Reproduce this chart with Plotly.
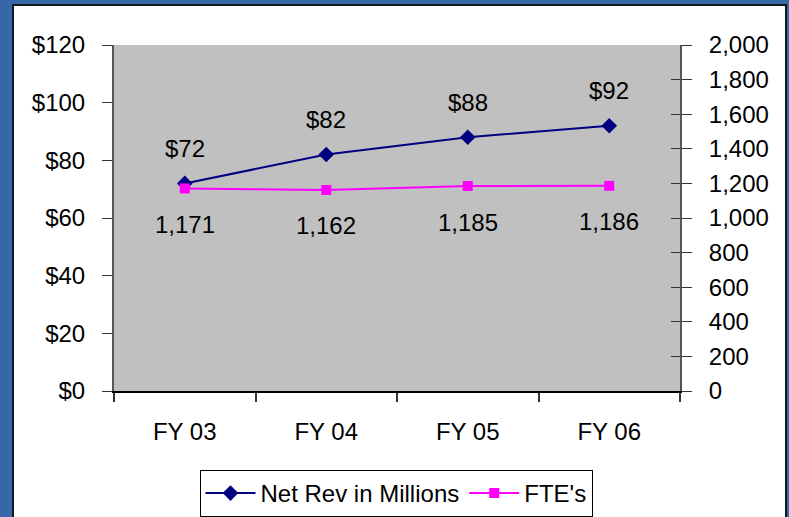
import plotly.graph_objects as go

categories = ["FY 03", "FY 04", "FY 05", "FY 06"]
net_rev = [72, 82, 88, 92]
fte = [1171, 1162, 1185, 1186]
rev_labels = ["$72", "$82", "$88", "$92"]
fte_labels = ["1,171", "1,162", "1,185", "1,186"]

W, H = 789, 517
L, R, T, B = 114, 680, 45, 391
pw, ph = R - L, B - T

FONT = "Arial, Liberation Sans, sans-serif"
FS = 24

fig = go.Figure()
fig.add_trace(go.Scatter(
    x=categories, y=net_rev, name="Net Rev in Millions", mode="lines+markers",
    line=dict(color="#000080", width=2),
    marker=dict(symbol="diamond", size=12, color="#000080"),
    yaxis="y", cliponaxis=False))
fig.add_trace(go.Scatter(
    x=categories, y=fte, name="FTE's", mode="lines+markers",
    line=dict(color="#FF00FF", width=2),
    marker=dict(symbol="square", size=10, color="#FF00FF"),
    yaxis="y2", cliponaxis=False))

annotations = []
for c, v, t in zip(categories, net_rev, rev_labels):
    annotations.append(dict(x=c, y=v, xref="x", yref="y", text=t, showarrow=False,
                            yshift=35, font=dict(family=FONT, size=FS, color="black")))
for c, v, t in zip(categories, fte, fte_labels):
    annotations.append(dict(x=c, y=v, xref="x", yref="y2", text=t, showarrow=False,
                            yshift=-36, font=dict(family=FONT, size=FS, color="black")))

def px_x(x):
    return (x - L) / pw

def px_y(y):
    return (B - y) / ph

shapes = [
    dict(type="rect", xref="paper", yref="paper",
         x0=px_x(13), x1=px_x(786), y0=px_y(540), y1=px_y(5),
         fillcolor="white", line=dict(color="#101820", width=2), layer="below"),
    dict(type="rect", xref="paper", yref="paper", x0=0, x1=1, y0=0, y1=1,
         fillcolor="#C0C0C0", line=dict(width=0), layer="below"),
]

fig.update_layout(
    width=W, height=H,
    margin=dict(l=L, r=W - R, t=T, b=H - B, pad=0),
    paper_bgcolor="#3767A6",
    plot_bgcolor="#C0C0C0",
    font=dict(family=FONT, size=FS, color="black"),
    showlegend=True,
    legend=dict(orientation="h", xref="container", yref="container",
                x=396 / W, xanchor="center", y=1 - 470 / H, yanchor="top",
                bgcolor="white", bordercolor="black", borderwidth=1,
                font=dict(family=FONT, size=FS, color="black"), itemwidth=50,
                tracegroupgap=0),
    xaxis=dict(type="category", range=[-0.5, 3.5], tickson="boundaries",
               ticks="outside", ticklen=9, tickcolor="#333333", tickwidth=2,
               showline=True, linecolor="black", linewidth=2,
               showgrid=False, zeroline=False, ticklabelstandoff=18,
               tickfont=dict(family=FONT, size=FS)),
    yaxis=dict(range=[0, 120], dtick=20, tickprefix="$", ticks="outside", ticklen=10,
               tickcolor="#333333", tickwidth=1, showline=True, linecolor="#555555", linewidth=2,
               showgrid=False, zeroline=False, ticklabelstandoff=12,
               tickfont=dict(family=FONT, size=FS)),
    yaxis2=dict(range=[0, 2000], dtick=200, tickformat=",d", overlaying="y", side="right",
                anchor="x", ticks="outside", ticklen=10, tickcolor="#333333", tickwidth=1,
                showline=True, linecolor="#555555", linewidth=2, showgrid=False, zeroline=False,
                ticklabelstandoff=12, tickfont=dict(family=FONT, size=FS)),
    yaxis3=dict(range=[0, 2000], dtick=200, overlaying="y", side="right", anchor="x",
                ticks="inside", ticklen=9, tickcolor="#333333", tickwidth=1,
                showticklabels=False, showline=False, showgrid=False, zeroline=False),
    annotations=annotations,
    shapes=shapes,
)
# invisible trace to activate yaxis3 (inner half of the crossing ticks)
fig.add_trace(go.Scatter(x=categories, y=fte, yaxis="y3", mode="lines",
                         line=dict(width=0), showlegend=False, hoverinfo="skip", opacity=0))

fig.write_html("out.html", config={"displayModeBar": False},
               post_script="document.body.style.margin='0';document.body.style.overflow='hidden';")
